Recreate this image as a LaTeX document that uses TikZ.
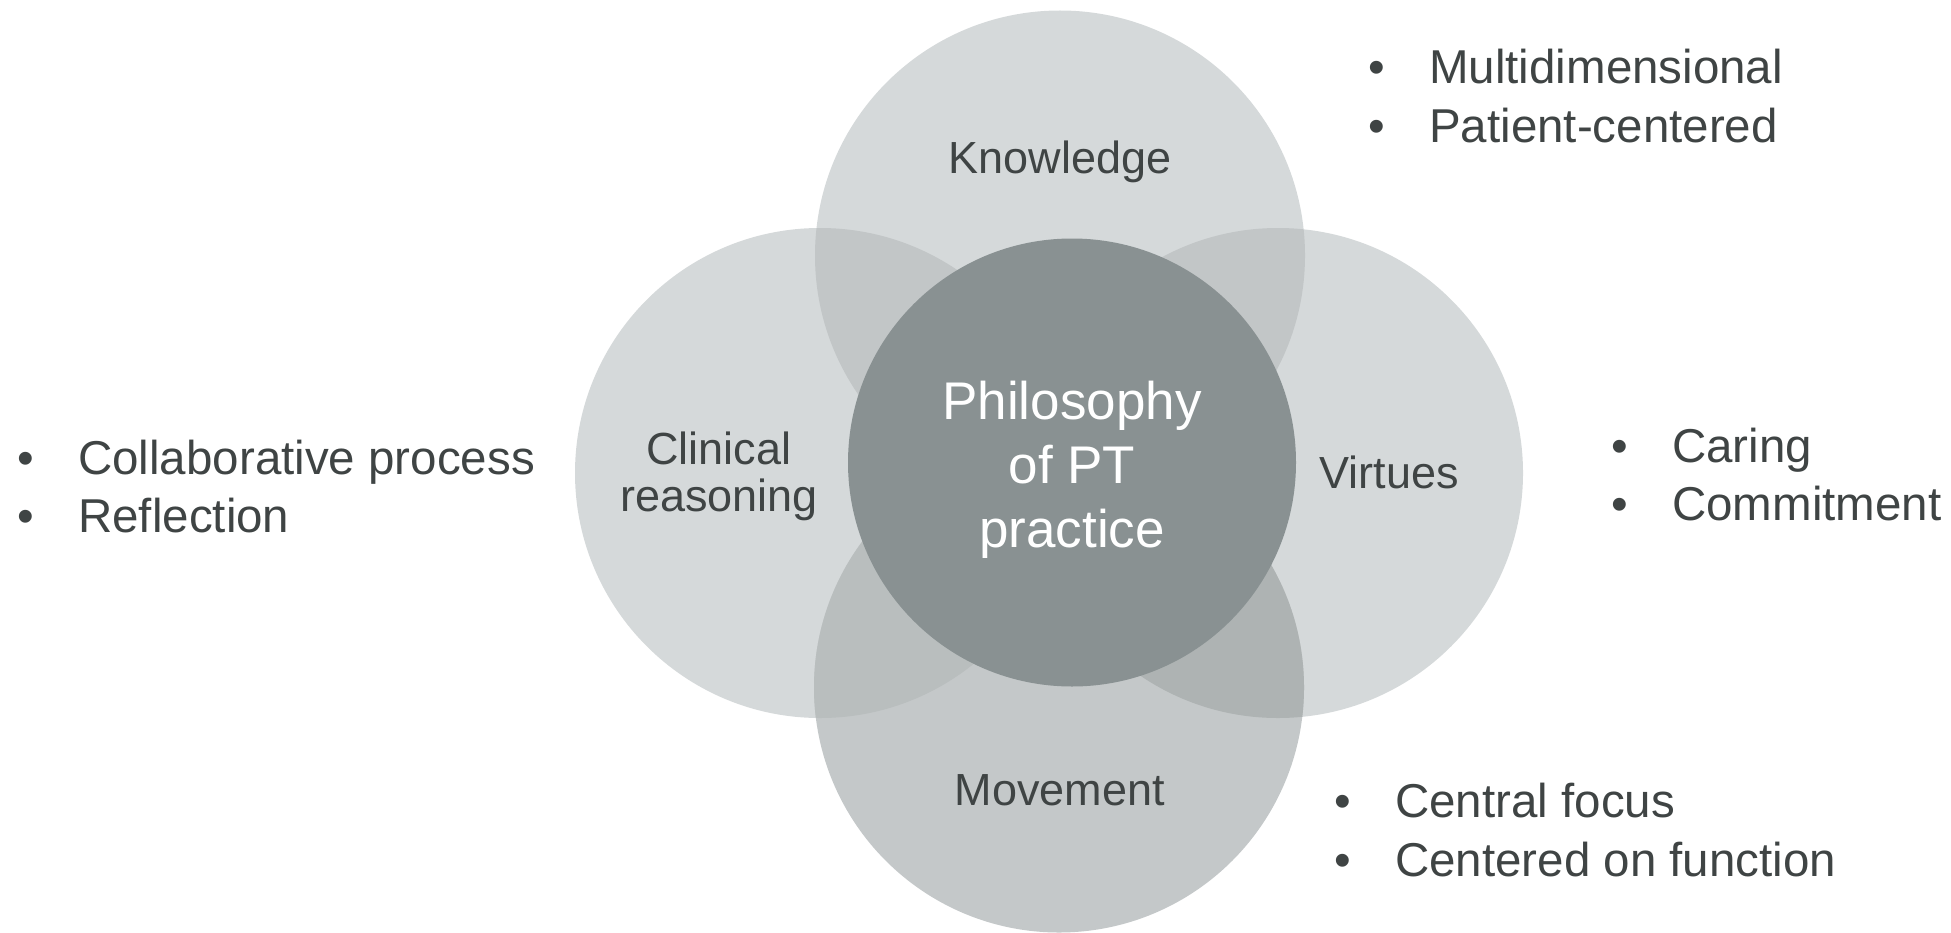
\documentclass[tikz,border=0pt]{standalone}
\usepackage{fontspec}
\setmainfont{Liberation Sans}
\definecolor{txt}{HTML}{3F4444}
\definecolor{cLight}{HTML}{D5D9DA}
\definecolor{cMove}{HTML}{C4C8C9}
\definecolor{cKC}{HTML}{C2C6C7}
\definecolor{cMC}{HTML}{B9BEBE}
\definecolor{cMV}{HTML}{AEB3B3}
\definecolor{cCore}{HTML}{899192}
\tikzset{
  lbl/.style={text=txt, inner sep=0pt, anchor=base, font=\fontsize{45bp}{47bp}\selectfont},
  corelbl/.style={text=white, inner sep=0pt, anchor=base, font=\fontsize{53bp}{64bp}\selectfont},
  bul/.style={text=txt, inner sep=0pt, anchor=base west, font=\fontsize{47.5bp}{57bp}\selectfont},
}
\newcommand{\bitem}[1]{\makebox[61bp][l]{\textbullet}#1}
\begin{document}
\begin{tikzpicture}[x=1bp,y=-1bp]
\useasboundingbox (0,0) rectangle (1951,933);
% centres
\coordinate (kc) at (1060,255.5);
\coordinate (mc) at (1059,687.5);
\coordinate (cc) at (820,473);
\coordinate (vc) at (1278,473);
\coordinate (oc) at (1072,462.5);
% outer circles
\fill[cLight] (kc) circle [radius=245bp];
\fill[cLight] (cc) circle [radius=245bp];
\fill[cLight] (vc) circle [radius=245bp];
\fill[cMove] (mc) circle [radius=245bp];
% overlaps with Knowledge
\begin{scope}
  \clip (kc) circle [radius=245bp];
  \fill[cKC] (cc) circle [radius=245bp];
  \fill[cKC] (vc) circle [radius=245bp];
\end{scope}
% overlaps with Movement
\begin{scope}
  \clip (mc) circle [radius=245bp];
  \fill[cMC] (cc) circle [radius=245bp];
  \fill[cMV] (vc) circle [radius=245bp];
\end{scope}
% core
\fill[cCore] (oc) circle [radius=224bp];
% labels
\node[lbl] (know) at (1060,173) {Knowledge};
\node[lbl] (move) at (1060,805) {Movement};
\node[lbl] (clin1) at (719,464) {Clinical};
\node[lbl] (clin2) at (719,511) {reasoning};
\node[lbl] (virt) at (1389,488) {Virtues};
\node[corelbl] (core1) at (1072,419) {Philosophy};
\node[corelbl] (core2) at (1072,483) {of PT};
\node[corelbl] (core3) at (1072,547) {practice};
% bullet lists
\node[bul] (k1) at (1368,83) {\bitem{Multidimensional}};
\node[bul] (k2) at (1368,142) {\bitem{Patient-centered}};
\node[bul] (c1) at (17,474) {\bitem{Collaborative process}};
\node[bul] (c2) at (17,532) {\bitem{Reflection}};
\node[bul] (v1) at (1611,462) {\bitem{Caring}};
\node[bul] (v2) at (1611,520) {\bitem{Commitment}};
\node[bul] (m1) at (1334,817) {\bitem{Central focus}};
\node[bul] (m2) at (1334,876) {\bitem{Centered on function}};
\end{tikzpicture}
\end{document}
